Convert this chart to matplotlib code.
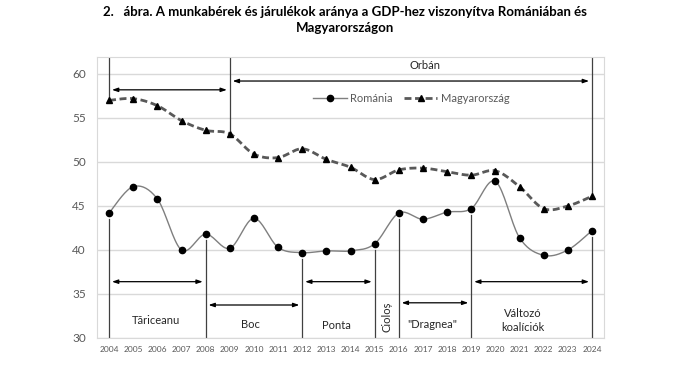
import numpy as np
import matplotlib
matplotlib.use("Agg")
import matplotlib.pyplot as plt

plt.rcParams['font.family'] = ['Lato', 'DejaVu Sans']

# data
years = list(range(2004, 2025))
romania = [44.2, 47.2, 45.8, 40.0, 41.8, 40.2, 43.6, 40.3, 39.7, 39.9, 39.9,
           40.7, 44.2, 43.5, 44.3, 44.7, 47.8, 41.4, 39.4, 40.0, 42.2]
hungary = [57.0, 57.2, 56.4, 54.7, 53.6, 53.2, 50.9, 50.5, 51.5, 50.3, 49.4,
           48.0, 49.1, 49.3, 48.9, 48.5, 49.0, 47.2, 44.7, 45.0, 46.1]

# government periods (Romania below, Hungary on top)
ro_bounds = [2004, 2008, 2012, 2015, 2016, 2019, 2024]
ro_periods = [(2004, 2008, 36.4), (2008, 2012, 33.75), (2012, 2015, 36.4),
              (2016, 2019, 34.0), (2019, 2024, 36.4)]
ro_labels = [("Tăriceanu", 2005.95, 32.0, 0), ("Boc", 2009.85, 31.5, 0),
             ("Ponta", 2013.4, 31.4, 0), ("Cioloș", 2015.5, 32.4, 90),
             ('"Dragnea"', 2017.4, 31.5, 0), ("Változó\nkoalíciók", 2021.15, 32.0, 0)]
hu_bounds = [2004, 2009, 2024]
hu_periods = [(2004, 2009, 58.2), (2009, 2024, 59.2)]


def smooth(x, y, n=20):
    # Excel-style smoothed line (Catmull-Rom as cubic Bezier)
    x = np.asarray(x, float)
    y = np.asarray(y, float)
    px = np.concatenate([[x[0]], x, [x[-1]]])
    py = np.concatenate([[y[0]], y, [y[-1]]])
    t = np.linspace(0, 1, n)[:, None]
    xs, ys = [], []
    for i in range(1, len(px) - 2):
        p0 = np.array([px[i], py[i]])
        p3 = np.array([px[i + 1], py[i + 1]])
        c1 = p0 + (np.array([px[i + 1], py[i + 1]]) - np.array([px[i - 1], py[i - 1]])) / 6
        c2 = p3 - (np.array([px[i + 2], py[i + 2]]) - p0) / 6
        b = ((1 - t) ** 3) * p0 + 3 * ((1 - t) ** 2) * t * c1 + 3 * (1 - t) * t ** 2 * c2 + t ** 3 * p3
        xs.append(b[:, 0])
        ys.append(b[:, 1])
    return np.concatenate(xs), np.concatenate(ys)


fig = plt.figure(figsize=(6.9, 3.7), dpi=100)
ax = fig.add_axes([97 / 690, 1 - 338 / 370, 507 / 690, 281 / 370])

dash = (0, (2.5, 1.3))
sx, sy = smooth(years, romania)
ax.plot(sx, sy, color='#7f7f7f', lw=1.0, zorder=3)
ax.plot(years, romania, 'o', color='black', ms=4.5, zorder=4)
hx, hy = smooth(years, hungary)
ax.plot(hx, hy, color='#595959', lw=2.0, ls=dash, zorder=3)
ax.plot(years, hungary, '^', color='black', ms=4.5, zorder=4)

# legend proxies
h1, = ax.plot([], [], '-o', color='#7f7f7f', mfc='black', mec='black', ms=4.5, lw=1.0)
h2, = ax.plot([], [], '-^', color='#595959', mfc='black', mec='black', ms=4.5, ls=dash, lw=2.0)
ax.legend([h1, h2], ['Románia', 'Magyarország'], loc='center', bbox_to_anchor=(0.62, 0.852),
          ncol=2, frameon=False, fontsize=8, labelcolor='#595959', handlelength=3.0,
          columnspacing=1.0, handletextpad=0.3)

ax.set_xlim(2003.5, 2024.5)
ax.set_ylim(30, 61.93)
ax.set_yticks(range(30, 61, 5))
ax.set_xticks(years)
ax.tick_params(axis='x', labelsize=6, colors='#595959', length=0, pad=6)
ax.tick_params(axis='y', labelsize=8.5, colors='#595959', length=0, pad=8)
ax.grid(axis='y', color='#d9d9d9', lw=1)
ax.set_axisbelow(True)
for s in ax.spines.values():
    s.set_color('#d9d9d9')

line_col = '#404040'
rdict = dict(zip(years, romania))
hdict = dict(zip(years, hungary))
for b in ro_bounds:
    ax.plot([b, b], [30, rdict[b] - 0.7], color=line_col, lw=0.9, zorder=2)
for b in hu_bounds:
    ax.plot([b, b], [hdict[b] + 0.4, 61.93], color=line_col, lw=0.9, zorder=2)

arrow = dict(arrowstyle='<|-|>,head_length=0.35,head_width=0.12', color='black',
             lw=0.9, shrinkA=0, shrinkB=0)
for a, b, y in ro_periods + hu_periods:
    ax.annotate('', xy=(a + 0.12, y), xytext=(b - 0.12, y), arrowprops=arrow)

for txt, x, y, rot in ro_labels:
    ax.text(x, y, txt, ha='center', va='center', rotation=rot, fontsize=8,
            color='#262626', linespacing=1.3)
ax.text(2017.1, 61.0, 'Orbán', ha='center', va='center', fontsize=8, color='#262626')

fig.text(0.5, 1 - 12 / 370, '2.   ábra. A munkabérek és járulékok aránya a GDP-hez viszonyítva Romániában és',
         ha='center', va='center', fontsize=9.5, fontweight='bold')
fig.text(0.5, 1 - 28 / 370, 'Magyarországon', ha='center', va='center',
         fontsize=9.5, fontweight='bold')

fig.savefig('out.png', dpi=100)
